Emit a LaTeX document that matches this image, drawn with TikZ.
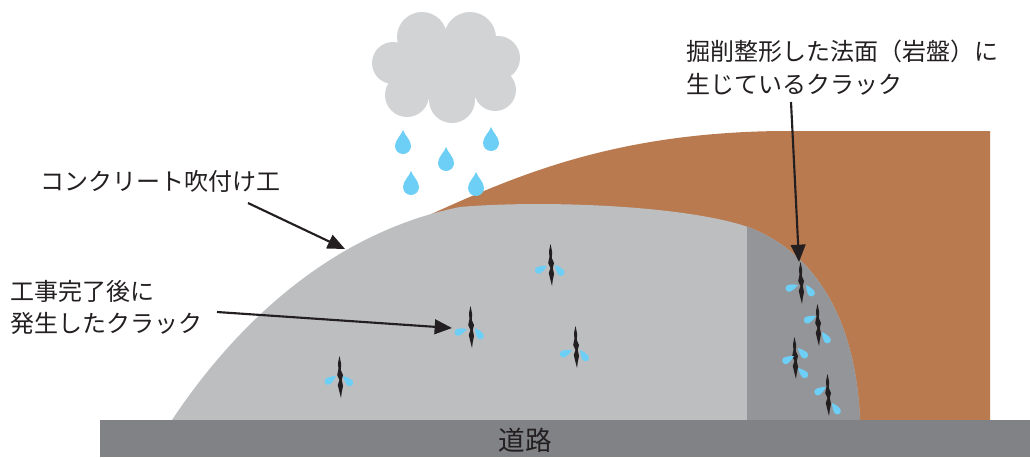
\documentclass[tikz,border=0pt]{standalone}
\usepackage{fontspec}
\newfontfamily\jpfont{Noto Sans CJK JP}
\usetikzlibrary{arrows.meta}

\definecolor{concrete}{HTML}{BCBEC0}
\definecolor{concretedark}{HTML}{939598}
\definecolor{roadgray}{HTML}{808285}
\definecolor{rock}{HTML}{B97A4F}
\definecolor{cloudgray}{HTML}{D1D3D4}
\definecolor{water}{HTML}{6DCFF6}
\definecolor{ink}{HTML}{231F20}

\tikzset{
  label text/.style={font=\jpfont\fontsize{18}{24.5}\selectfont, text=ink, inner sep=0pt, align=left, anchor=west},
  pointer/.style={draw=ink, line width=1.6pt, -{Triangle[length=13pt,width=11pt]}},
  puff/.style={fill=cloudgray, draw=none},
  raindrop/.pic={\fill[water] (0,-13) .. controls (1.5,-8) and (8,-3) .. (8,3)
      arc[start angle=0, end angle=180, radius=8] .. controls (-8,-3) and (-1.5,-8) .. (0,-13);},
  seep/.pic={\fill[water] (0,0) .. controls (3,1.5) and (6,3.6) .. (9.5,3.6)
      arc[start angle=90, end angle=-90, radius=3.6] .. controls (6,-3.6) and (3,-1.5) .. (0,0);},
  crack/.pic={\fill[ink] (-0.5,-21) -- (1.2,-13) -- (0.8,-7) -- (3,-2) -- (1.8,3) -- (3,9)
      -- (1.8,15) -- (1,21) -- (-0.8,14) -- (-2.2,8) -- (-0.6,3) -- (-2.8,-2) -- (-1.6,-8) -- (-2,-14) -- cycle;}
}

\begin{document}
\begin{tikzpicture}[x=0.75pt, y=-0.75pt]
\useasboundingbox (0,0) rectangle (1030,457);

% bedrock behind the slope
\fill[rock] (405,226) .. controls (500,183) and (600,133) .. (780,131)
  -- (990,131) -- (990,420) -- (600,420) -- cycle;

% shotcrete cover
\def\shotcrete{(172,420) .. controls (225,340) and (320,235) .. (460,207)
  .. controls (540,200) and (680,205) .. (745,226)
  .. controls (800,245) and (855,300) .. (860,420) -- cycle}
\fill[concrete] \shotcrete;
\begin{scope}
  \clip (747,0) rectangle (1000,420);
  \fill[concretedark] \shotcrete;
\end{scope}

% road
\fill[roadgray] (100,420) rectangle (1030,457);
\node[font=\jpfont\fontsize{20}{24}\selectfont, text=ink, inner sep=0pt] (road) at (525,440) {道路};

% cloud, built from overlapping puffs
\path[puff] (452,70) circle[radius=36];
\path[puff] (422,72) circle[radius=28];
\path[puff] (422,37) circle[radius=25];
\path[puff] (470,38) circle[radius=26];
\path[puff] (498,58) circle[radius=22];
\path[puff] (393,63) circle[radius=21];
\path[puff] (407,95) circle[radius=22];
\path[puff] (452,100) circle[radius=23];
\path[puff] (495,90) circle[radius=21];

% rain
\pic at (403,143) {raindrop};
\pic at (446,160) {raindrop};
\pic at (491,140) {raindrop};
\pic at (411,184) {raindrop};
\pic at (476,185) {raindrop};

% cracks in the shotcrete with seeping water
\pic at (551,265) {crack};
\pic[rotate=207] at (547,266) {seep};
\pic[rotate=-51] at (555,265) {seep};

\pic at (471,327) {crack};
\pic[rotate=200] at (467,329) {seep};
\pic[rotate=-56] at (475,328) {seep};

\pic at (576,347) {crack};
\pic[rotate=205] at (572,350) {seep};
\pic[rotate=-55] at (580,350) {seep};

\pic at (340,377) {crack};
\pic[rotate=214] at (336,376) {seep};
\pic[rotate=-45] at (343,376) {seep};

% cracks in the excavated rock face
\pic at (801,283) {crack};
\pic[rotate=200] at (798,285) {seep};
\pic[rotate=-56] at (806,285) {seep};

\pic at (818,325) {crack};
\pic[rotate=205] at (816,316) {seep};
\pic[rotate=-56] at (822,332) {seep};

\pic at (795,358) {crack};
\pic[rotate=-47] at (798,348) {seep};
\pic[rotate=209] at (794,356) {seep};
\pic[rotate=-45] at (798,368) {seep};

\pic at (828,395) {crack};
\pic[rotate=211] at (826,387) {seep};
\pic[rotate=-56] at (832,403) {seep};

% labels
\node[label text] (rockface) at (686,67.5) {掘削整形した法面（岩盤）に\\生じているクラック};
\node[label text] (spray) at (40,181) {コンクリート吹付け工};
\node[label text] (newcrack) at (10,307.5) {工事完了後に\\発生したクラック};

% leader lines
\coordinate (p1s) at (248,203);
\coordinate (p1e) at (345,249);
\coordinate (p2s) at (217,312);
\coordinate (p2e) at (452,328);
\coordinate (p3s) at (791,102);
\coordinate (p3e) at (799,262);
\draw[pointer] (p1s) -- (p1e);
\draw[pointer] (p2s) -- (p2e);
\draw[pointer] (p3s) -- (p3e);
\end{tikzpicture}
\end{document}
